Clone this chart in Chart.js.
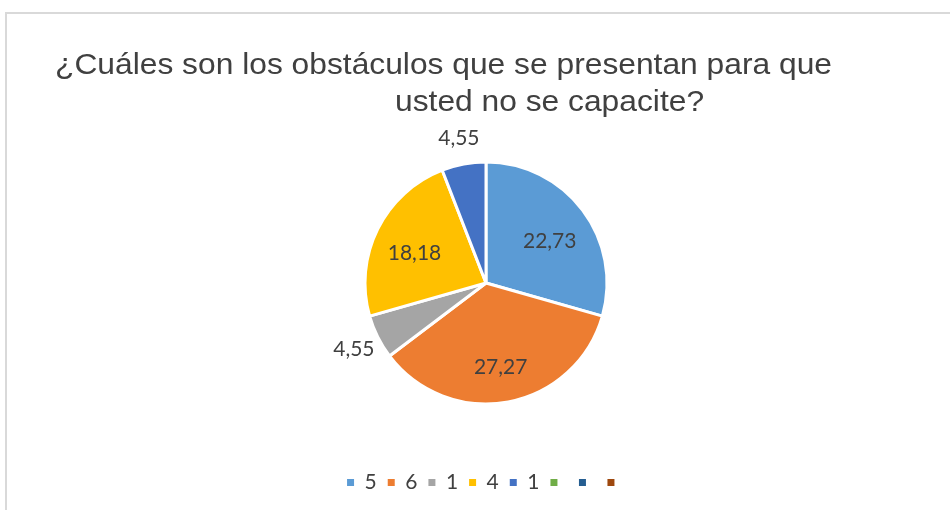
<!DOCTYPE html>
<html>
<head>
<meta charset="utf-8">
<script src="https://cdn.jsdelivr.net/npm/chart.js@4"></script>
<style>
  html, body { margin: 0; padding: 0; background: #fff; overflow: hidden; }
  #wrap { position: relative; width: 950px; height: 510px; }
  #frame { position: absolute; left: 5px; top: 12px; width: 1000px; height: 600px; border: 2px solid #d9d9d9; box-sizing: border-box; }
  #chart { position: absolute; left: 0; top: 0; }
</style>
</head>
<body>
<div id="wrap">
  <div id="frame"></div>
  <canvas id="chart" width="950" height="510"></canvas>
</div>
<script>
// data
var titleLines = ['¿Cuáles son los obstáculos que se presentan para que', 'usted no se capacite?'];
var categories = ['5', '6', '1', '4', '1', '', '', ''];
var percents = [22.73, 27.27, 4.55, 18.18, 4.55, 0, 0, 0];
var colors = ['#5b9bd5', '#ed7d31', '#a5a5a5', '#ffc000', '#4472c4', '#70ad47', '#255e91', '#9e480e'];

var textColor = '#404040';

/* title: two wrapped lines, placed like the original (text is a bit wider than Arial) */
var titlePlugin = {
    id: 'titleLines',
    afterDraw: function(chart) {
        var ctx = chart.ctx;
        ctx.save();
        ctx.fillStyle = textColor;
        ctx.font = '29px "Liberation Sans", Arial, sans-serif';
        ctx.textBaseline = 'alphabetic';
        ctx.textAlign = 'left';
        var w1 = ctx.measureText(titleLines[0]).width;
        var sx = 777 / w1;
        ctx.translate(55, 0);
        ctx.scale(sx, 1);
        ctx.fillText(titleLines[0], 0, 74);
        ctx.restore();
        ctx.save();
        ctx.fillStyle = textColor;
        ctx.font = '29px "Liberation Sans", Arial, sans-serif';
        ctx.translate(395, 0);
        ctx.scale(sx, 1);
        ctx.fillText(titleLines[1], 0, 103);
        ctx.restore();
    }
};

/* value labels: inside for big slices, outside for small ones */
var labelPlugin = {
    id: 'sliceLabels',
    afterDatasetsDraw: function(chart) {
        var ctx = chart.ctx;
        var meta = chart.getDatasetMeta(0);
        var total = percents.reduce(function(a, b) { return a + b; }, 0);
        ctx.save();
        ctx.font = '21px Lato, "Open Sans", sans-serif';
        ctx.fillStyle = textColor;
        ctx.textAlign = 'center';
        ctx.textBaseline = 'middle';
        meta.data.forEach(function(arc, i) {
            var v = percents[i];
            if (!v) return;
            var p = arc.getProps(['x', 'y', 'startAngle', 'endAngle', 'outerRadius'], true);
            var mid = (p.startAngle + p.endAngle) / 2;
            var inside = v / total > 0.1;
            var dist = inside ? p.outerRadius * 0.66 : p.outerRadius * 1.22;
            var tx = p.x + Math.cos(mid) * dist;
            var ty = p.y + Math.sin(mid) * dist + (inside ? 6 : 0);
            ctx.fillText(v.toFixed(2).replace('.', ','), tx, ty);
        });
        ctx.restore();
    }
};

new Chart(document.getElementById('chart'), {
    type: 'pie',
    data: {
        labels: categories,
        datasets: [{
            data: percents,
            backgroundColor: colors,
            borderColor: '#ffffff',
            borderWidth: 3,
            radius: 121
        }]
    },
    options: {
        responsive: false,
        animation: false,
        layout: { padding: { top: 105, left: 22, right: 0, bottom: 7 } },
        plugins: {
            title: { display: false },
            tooltip: { enabled: false },
            legend: {
                position: 'bottom',
                labels: {
                    boxWidth: 7,
                    boxHeight: 7,
                    padding: 11,
                    color: textColor,
                    font: { family: 'Lato, "Open Sans", sans-serif', size: 21 },
                    generateLabels: function(chart) {
                        var items = Chart.overrides.pie.plugins.legend.labels.generateLabels(chart);
                        items.forEach(function(it) {
                            it.lineWidth = 0;
                            it.strokeStyle = it.fillStyle;
                        });
                        return items;
                    }
                }
            }
        }
    },
    plugins: [titlePlugin, labelPlugin]
});
</script>
</body>
</html>
